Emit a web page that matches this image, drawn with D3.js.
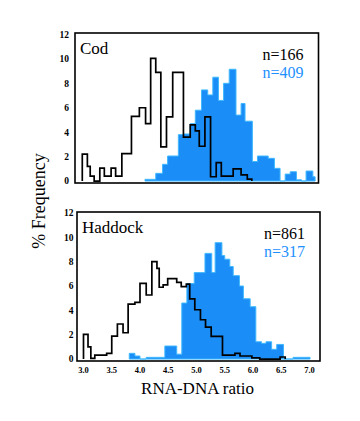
<!DOCTYPE html>
<html>
<head>
<meta charset="utf-8">
<script src="https://cdn.jsdelivr.net/npm/d3@7/dist/d3.min.js"></script>
<style>
  html, body { margin: 0; padding: 0; background: #ffffff; }
  svg { display: block; }
  text { font-family: "Liberation Serif", "DejaVu Serif", serif; }
</style>
</head>
<body>
<svg id="chart" width="360" height="421"></svg>
<script>
// ---------------- DATA ----------------
const panels = ["Cod", "Haddock"];
const yTicks = [0, 2, 4, 6, 8, 10, 12];
const xTickValues = [3.0, 3.5, 4.0, 4.5, 5.0, 5.5, 6.0, 6.5, 7.0];
const xTickLabels = ["3.0", "3.5", "4.0", "4.5", "5.0", "5.5", "6.0", "6.5", "7.0"];
const nBlack = ["n=166", "n=861"];
const nBlue = ["n=409", "n=317"];

// Cod, black outline histogram (bin left edges, last = right end) and % frequency
const codBlackEdges = [3.00, 3.09, 3.14, 3.21, 3.31, 3.39, 3.51, 3.59, 3.70, 3.87, 4.01, 4.12, 4.21, 4.30,
  4.39, 4.49, 4.60, 4.79, 4.91, 5.00, 5.07, 5.17, 5.27, 5.37, 5.46, 5.67, 5.81, 5.92, 6.00];
const codBlackPct = [2.2, 1.2, 0.4, 0, 1.05, 0.4, 1.05, 0.4, 2.25, 5.3, 6.0, 4.7, 10.05, 8.9,
  2.8, 5.25, 8.9, 3.6, 4.6, 4.1, 2.85, 5.25, 0.35, 1.5, 0.4, 1.0, 0.5, 0.15];

// Cod, blue filled histogram
const codBlueEdges = [4.11, 4.30, 4.42, 4.51, 4.70, 4.79, 4.91, 5.00, 5.11, 5.22, 5.31, 5.41, 5.50, 5.60,
  5.72, 5.81, 5.88, 6.01, 6.10, 6.29, 6.40, 6.50, 6.59, 6.68, 6.79, 6.88, 6.96, 7.08, 7.12];
const codBluePct = [0.14, 0.63, 1.37, 2.05, 3.8, 3.85, 4.7, 5.8, 7.46, 7.05, 8.5, 6.6, 8.0, 9.15,
  5.4, 6.35, 4.9, 1.6, 2.05, 1.86, 1.04, 0, 0.57, 0.76, 0.1, 0, 0.82, 0.35];

// Haddock, black outline histogram
const haddockBlackEdges = [3.00, 3.08, 3.13, 3.20, 3.41, 3.50, 3.60, 3.70, 3.79, 3.91, 4.00, 4.11, 4.21, 4.30,
  4.34, 4.41, 4.49, 4.65, 4.73, 4.82, 4.88, 4.97, 5.07, 5.16, 5.26, 5.46, 5.68, 5.77, 5.98, 6.12, 6.48, 6.57];
const haddockBlackPct = [2.03, 1.0, 0.06, 0.33, 0.47, 1.89, 2.88, 2.16, 4.52, 4.65, 6.22, 5.26, 8.0, 7.45,
  5.9, 6.1, 6.6, 6.3, 5.95, 6.15, 4.95, 4.05, 3.23, 2.63, 1.86, 0.33, 0.47, 0.25, 0.1, 0, 0.17];

// Haddock, blue filled histogram
const haddockBlueEdges = [3.81, 3.91, 4.00, 4.11, 4.44, 4.65, 4.74, 4.83, 4.96, 5.15, 5.27, 5.33, 5.45, 5.50,
  5.59, 5.65, 5.76, 5.83, 5.95, 6.05, 6.15, 6.23, 6.33, 6.42, 6.54, 6.71, 7.01];
const haddockBluePct = [0.47, 0.25, 0, 0.14, 1.07, 0.4, 4.6, 6.2, 7.1, 8.68, 7.1, 9.56, 8.5, 8.2,
  7.6, 6.85, 6.0, 4.95, 4.3, 1.42, 1.29, 1.42, 0.8, 1.2, 0, 0.14];

// ---------------- LAYOUT ----------------
const layout = [
  { left: 75, right: 318.5, top: 33, bottom: 183, xDomain: [2.871, 7.180], yDomain: [-0.16, 12.12], labelRight: 69,
    black: [codBlackEdges, codBlackPct], blue: [codBlueEdges, codBluePct], showX: false },
  { left: 77, right: 320, top: 212, bottom: 361, xDomain: [2.885, 7.186], yDomain: [-0.16, 12.08], labelRight: 73.5,
    black: [haddockBlackEdges, haddockBlackPct], blue: [haddockBlueEdges, haddockBluePct], showX: true }
];

const BLUE_FILL = "#1b8df7";
const BLUE_EDGE = "#3fb8ff";
const BLUE_TEXT = "#1e90ff";

const svg = d3.select("#chart");

function stepPoints(edges, pct, x, y) {
  const pts = [[x(edges[0]), y(0)]];
  for (let i = 0; i < pct.length; i++) {
    pts.push([x(edges[i]), y(pct[i])]);
    pts.push([x(edges[i + 1]), y(pct[i])]);
  }
  pts.push([x(edges[edges.length - 1]), y(0)]);
  return pts;
}

layout.forEach((p, i) => {
  const x = d3.scaleLinear().domain(p.xDomain).range([p.left, p.right]);
  const y = d3.scaleLinear().domain(p.yDomain).range([p.bottom, p.top]);
  const g = svg.append("g");

  const line = d3.line();

  // blue filled histogram
  g.append("path")
    .attr("d", line(stepPoints(p.blue[0], p.blue[1], x, y)) + "Z")
    .attr("fill", BLUE_FILL)
    .attr("stroke", BLUE_EDGE)
    .attr("stroke-width", 1)
    .attr("stroke-linejoin", "miter");

  // black outline histogram
  g.append("path")
    .attr("d", line(stepPoints(p.black[0], p.black[1], x, y)))
    .attr("fill", "none")
    .attr("stroke", "#000")
    .attr("stroke-width", 1.7)
    .attr("stroke-linejoin", "miter");

  // frame
  g.append("rect")
    .attr("x", p.left).attr("y", p.top)
    .attr("width", p.right - p.left).attr("height", p.bottom - p.top)
    .attr("fill", "none").attr("stroke", "#000").attr("stroke-width", 1.6);

  // y tick labels
  g.selectAll("text.ytick").data(yTicks).enter().append("text")
    .attr("class", "ytick")
    .attr("x", p.labelRight)
    .attr("y", d => y(d))
    .attr("dy", "0.35em")
    .attr("text-anchor", "end")
    .attr("font-size", 9.5)
    .attr("font-weight", "bold")
    .text(d => d);

  // x tick labels
  if (p.showX) {
    g.selectAll("text.xtick").data(xTickValues).enter().append("text")
      .attr("class", "xtick")
      .attr("x", d => x(d))
      .attr("y", p.bottom + 12)
      .attr("text-anchor", "middle")
      .attr("font-size", 8.5)
      .attr("font-weight", "bold")
      .text((d, j) => xTickLabels[j]);
  }

  // panel title
  g.append("text")
    .attr("x", p.left + 5)
    .attr("y", p.top + 21)
    .attr("font-size", 17)
    .text(panels[i]);

  // n labels
  g.append("text")
    .attr("x", p.right - 15)
    .attr("y", p.top + 27)
    .attr("text-anchor", "end")
    .attr("font-size", 16)
    .attr("fill", "#000")
    .text(nBlack[i]);
  g.append("text")
    .attr("x", p.right - 15)
    .attr("y", p.top + 45)
    .attr("text-anchor", "end")
    .attr("font-size", 16)
    .attr("fill", BLUE_TEXT)
    .text(nBlue[i]);
});

// axis titles
svg.append("text")
  .attr("x", 197.5).attr("y", 393.5)
  .attr("text-anchor", "middle")
  .attr("font-size", 17)
  .text("RNA-DNA ratio");

svg.append("text")
  .attr("transform", "translate(45,201) rotate(-90)")
  .attr("text-anchor", "middle")
  .attr("font-size", 18)
  .text("% Frequency");
</script>
</body>
</html>
